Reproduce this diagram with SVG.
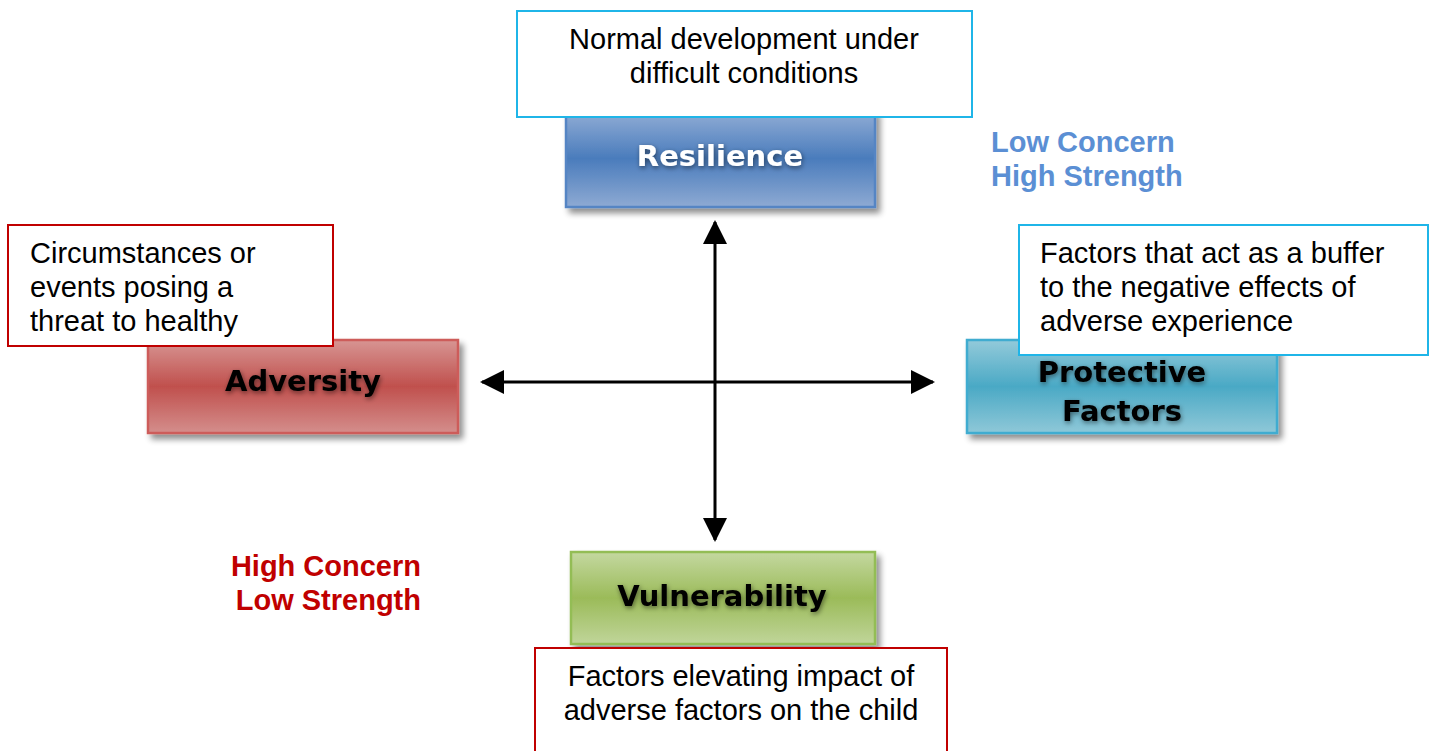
<svg xmlns="http://www.w3.org/2000/svg" width="1432" height="751" viewBox="0 0 1432 751">
<style>
.box{stroke-width:2.5}
.note{fill:#fff;stroke-width:2}
.nt{font-family:"Liberation Sans",Arial,sans-serif;font-size:29px;fill:#000}
.lbl{font-family:"DejaVu Sans",Verdana,sans-serif;font-weight:bold;font-size:29px;text-anchor:middle}
.side{font-family:"Liberation Sans",Arial,sans-serif;font-weight:bold;font-size:29px}
.conn{stroke:#000;stroke-width:3;fill:none}
</style>
<defs>
<filter id="sh" x="-10%" y="-20%" width="130%" height="150%">
<feGaussianBlur in="SourceAlpha" stdDeviation="3"/>
<feOffset dx="4" dy="5" result="b"/>
<feComponentTransfer><feFuncA type="linear" slope="0.45"/></feComponentTransfer>
<feMerge><feMergeNode/><feMergeNode in="SourceGraphic"/></feMerge>
</filter>
<filter id="tsh" x="-10%" y="-30%" width="120%" height="160%">
<feGaussianBlur in="SourceAlpha" stdDeviation="2.5"/>
<feOffset dx="1" dy="2"/>
<feComponentTransfer><feFuncA type="linear" slope="0.5"/></feComponentTransfer>
<feMerge><feMergeNode/><feMergeNode in="SourceGraphic"/></feMerge>
</filter>
<linearGradient id="gB" x1="0" y1="0" x2="0" y2="1"><stop offset="0" stop-color="#93aed6"/><stop offset="0.5" stop-color="#4a7cbc"/><stop offset="1" stop-color="#8eaad3"/></linearGradient>
<linearGradient id="gR" x1="0" y1="0" x2="0" y2="1"><stop offset="0" stop-color="#d79593"/><stop offset="0.5" stop-color="#c0504d"/><stop offset="1" stop-color="#d48e8c"/></linearGradient>
<linearGradient id="gC" x1="0" y1="0" x2="0" y2="1"><stop offset="0" stop-color="#93cada"/><stop offset="0.5" stop-color="#4aa9c5"/><stop offset="1" stop-color="#8fc8d8"/></linearGradient>
<linearGradient id="gG" x1="0" y1="0" x2="0" y2="1"><stop offset="0" stop-color="#c4d8a0"/><stop offset="0.5" stop-color="#9bbb59"/><stop offset="1" stop-color="#c0d59a"/></linearGradient>
<marker id="ah" viewBox="0 0 24 24" refX="22" refY="12" markerWidth="24" markerHeight="24" markerUnits="userSpaceOnUse" orient="auto-start-reverse">
<path d="M0,0 L24,12 L0,24 Z" fill="#000"/>
</marker>
</defs>
<g id="connectors">
<line class="conn" x1="715" y1="222" x2="715" y2="540" marker-start="url(#ah)" marker-end="url(#ah)"/>
<line class="conn" x1="482" y1="382" x2="933" y2="382" marker-start="url(#ah)" marker-end="url(#ah)"/>
</g>
<g id="resilience">
<rect class="box" x="566" y="110" width="309" height="97" fill="url(#gB)" stroke="#5585c4" filter="url(#sh)"/>
<text class="lbl" x="720" y="166" fill="#fff" filter="url(#tsh)">Resilience</text>
</g>
<g id="resilience-note">
<rect class="note" x="517" y="11" width="455" height="106" stroke="#1fb5e8"/>
<text class="nt" x="744" y="49" text-anchor="middle">Normal development under</text>
<text class="nt" x="744" y="83" text-anchor="middle">difficult conditions</text>
</g>
<g id="adversity">
<rect class="box" x="148" y="340" width="310" height="93" fill="url(#gR)" stroke="#cd5c5a" filter="url(#sh)"/>
<text class="lbl" x="303" y="391" fill="#000" filter="url(#tsh)">Adversity</text>
</g>
<g id="adversity-note">
<rect class="note" x="8" y="225" width="325" height="121" stroke="#c00000"/>
<text class="nt" x="30" y="263">Circumstances or</text>
<text class="nt" x="30" y="297">events posing a</text>
<text class="nt" x="30" y="331">threat to healthy</text>
</g>
<g id="protective">
<rect class="box" x="967" y="340" width="310" height="93" fill="url(#gC)" stroke="#41acd0" filter="url(#sh)"/>
<text class="lbl" x="1122" y="382" fill="#000" filter="url(#tsh)">Protective</text>
<text class="lbl" x="1122" y="421" fill="#000" filter="url(#tsh)">Factors</text>
</g>
<g id="protective-note">
<rect class="note" x="1019" y="225" width="409" height="130" stroke="#1fb5e8"/>
<text class="nt" x="1040" y="263">Factors that act as a buffer</text>
<text class="nt" x="1040" y="297">to the negative effects of</text>
<text class="nt" x="1040" y="331">adverse experience</text>
</g>
<g id="vulnerability">
<rect class="box" x="571" y="552" width="304" height="92" fill="url(#gG)" stroke="#93bd55" filter="url(#sh)"/>
<text class="lbl" x="722" y="606" fill="#000" filter="url(#tsh)">Vulnerability</text>
</g>
<g id="vulnerability-note">
<rect class="note" x="535" y="648" width="412" height="110" stroke="#c00000"/>
<text class="nt" x="741" y="686" text-anchor="middle">Factors elevating impact of</text>
<text class="nt" x="741" y="720" text-anchor="middle">adverse factors on the child</text>
</g>
<g id="low-concern">
<text class="side" x="991" y="152" fill="#5b8fd4">Low Concern</text>
<text class="side" x="991" y="186" fill="#5b8fd4">High Strength</text>
</g>
<g id="high-concern">
<text class="side" x="421" y="576" fill="#c00000" text-anchor="end">High Concern</text>
<text class="side" x="421" y="610" fill="#c00000" text-anchor="end">Low Strength</text>
</g>
</svg>
